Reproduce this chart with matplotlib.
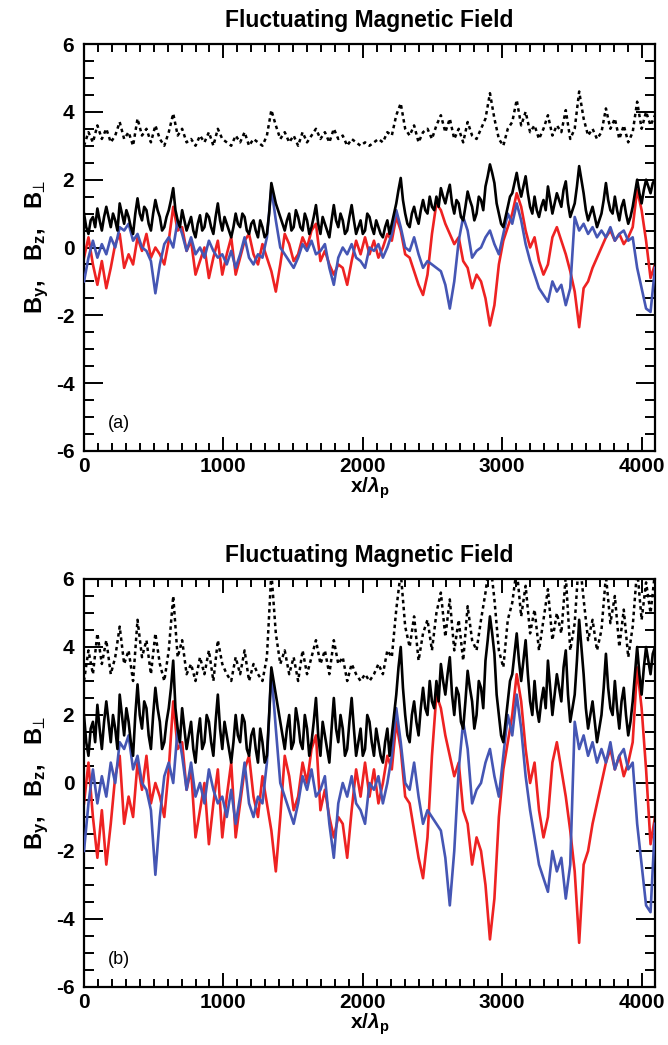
import numpy as np
import matplotlib
matplotlib.use("Agg")
import matplotlib.pyplot as plt
from matplotlib.ticker import MultipleLocator

plt.rcParams['font.family'] = ['Liberation Sans', 'DejaVu Sans']
plt.rcParams['axes.unicode_minus'] = False
plt.rcParams['mathtext.fontset'] = 'custom'
plt.rcParams['mathtext.rm'] = 'Liberation Sans:bold'
plt.rcParams['mathtext.bf'] = 'Liberation Sans:bold'
plt.rcParams['mathtext.it'] = 'Liberation Sans:italic:bold'
plt.rcParams['mathtext.fallback'] = 'stixsans'

# ---------------- data ----------------
x_pos = np.arange(0, 4097, 32)    # grid of the B_y, B_z and dotted curves
x_fine = np.arange(0, 4097, 16)   # grid of the B_perp curves

a_perp = [1.0,0.6,0.4,0.8,0.9,0.6,1.15,0.8,0.5,0.9,1.2,0.9,0.6,1.0,0.8,0.5,1.3,1.0,0.7,1.1,
 0.9,0.6,0.4,1.0,1.45,1.0,0.8,1.2,1.1,0.7,0.5,1.0,1.4,1.1,0.9,0.5,0.6,0.9,1.1,1.4,
 1.75,1.1,0.8,0.6,1.1,0.8,0.5,0.7,0.9,0.5,0.3,0.7,0.95,0.5,0.6,1.0,0.9,0.6,0.4,0.9,
 1.3,0.8,0.5,0.9,0.7,0.5,0.3,0.6,1.0,0.7,0.6,1.0,0.9,0.5,0.4,0.7,0.8,0.5,0.3,0.8,
 0.6,0.3,0.4,1.0,1.9,1.6,1.3,1.1,0.9,0.7,0.5,0.8,1.0,0.5,0.6,1.1,0.9,0.6,0.5,1.0,
 0.8,0.4,0.6,0.9,1.25,0.7,0.4,0.9,0.7,0.5,0.3,0.8,1.25,0.8,0.6,1.0,0.8,0.4,0.5,0.9,
 1.25,0.8,0.4,0.6,0.8,0.4,0.5,1.0,0.9,0.6,0.4,0.8,0.6,0.4,0.3,0.6,0.8,0.4,0.7,1.0,
 1.3,1.7,2.05,1.4,1.0,0.7,0.6,1.0,1.2,0.9,0.7,1.1,1.4,1.1,1.0,1.5,1.2,1.1,1.5,1.2,
 1.75,1.5,1.3,1.6,1.85,1.3,1.0,1.4,1.3,0.9,0.8,1.2,1.65,1.4,1.2,0.8,1.0,1.5,1.4,1.1,
 1.8,2.1,2.45,2.2,1.9,1.3,1.0,0.7,0.6,0.9,1.2,1.5,1.6,1.9,2.2,1.8,1.5,1.8,2.1,1.6,
 1.2,1.0,1.5,1.1,0.9,1.2,1.4,1.1,1.8,1.4,1.0,1.3,1.6,1.4,1.2,1.7,1.95,1.3,0.9,1.1,
 1.3,1.8,2.4,2.0,1.6,1.1,0.8,1.0,1.2,0.9,0.6,0.8,1.0,1.4,1.9,1.4,1.1,1.0,1.5,1.1,
 0.8,1.2,1.4,1.0,0.7,0.9,1.2,1.6,2.0,1.6,1.3,1.7,2.0,1.8,1.6,1.9,2.0]

a_by = [-0.3,0.3,-0.5,-1.1,-0.4,-1.2,-0.6,0.1,0.4,-0.6,
 -0.2,-0.5,0.3,-0.1,0.4,-0.3,0.0,-0.2,-0.5,0.2,
 1.2,0.5,0.6,-0.1,0.2,-0.8,-0.4,0.0,-0.9,-0.3,
 0.2,-0.8,-0.2,0.3,-0.8,-0.3,0.2,0.4,-0.2,-0.5,
 0.1,-0.3,-0.7,-1.3,-0.5,0.4,0.1,-0.4,-0.2,0.3,
 0.0,0.5,0.7,-0.4,-0.1,-0.5,-0.8,-0.5,-0.6,-1.1,
 -0.4,0.2,-0.2,0.3,-0.2,0.2,-0.3,0.0,0.4,0.2,
 0.9,0.5,-0.2,-0.3,-0.7,-1.1,-1.4,-0.8,0.4,1.3,
 1.1,0.7,0.4,0.1,0.3,-0.4,-0.6,-1.2,-0.8,-1.0,
 -1.5,-2.3,-1.7,-0.5,0.2,0.6,1.0,1.6,1.2,0.5,
 0.0,0.3,-0.4,-0.8,-0.5,0.3,0.6,0.2,-0.2,-0.7,
 -1.3,-2.35,-1.2,-1.0,-0.6,-0.3,0.0,0.3,0.5,0.2,
 0.4,0.1,0.3,0.6,1.7,1.1,0.2,-0.9,-0.5]

a_bz = [-1.0,-0.3,0.2,-0.3,0.1,-0.2,0.3,0.0,0.6,0.5,
 0.7,0.2,0.4,0.0,-0.1,-0.4,-1.35,-0.5,0.1,0.3,
 0.0,0.8,0.4,-0.1,0.3,-0.2,0.0,-0.3,0.2,-0.1,
 -0.3,-0.2,-0.5,-0.1,-0.6,-0.2,0.3,-0.3,-0.5,-0.2,
 -0.3,0.3,1.75,0.8,0.0,-0.2,-0.4,-0.6,-0.3,0.1,
 -0.1,0.2,-0.2,-0.1,0.1,-0.6,-1.1,-0.3,0.0,-0.2,
 0.1,-0.3,-0.4,-0.6,0.0,-0.1,0.1,-0.3,0.0,0.4,
 1.1,0.6,0.0,-0.1,0.3,-0.2,-0.6,-0.4,-0.5,-0.6,
 -0.7,-1.1,-1.8,-1.0,0.2,0.9,0.5,-0.3,-0.1,0.0,
 0.3,0.5,0.1,-0.2,0.4,1.0,0.7,1.3,0.8,0.1,
 -0.4,-0.8,-1.2,-1.4,-1.6,-1.0,-1.3,-1.1,-1.7,-1.2,
 0.9,0.5,0.7,0.4,0.6,0.3,0.5,0.3,0.6,0.2,
 0.4,0.5,0.2,0.3,-0.6,-1.2,-1.8,-1.9,-0.6]

a_dot = [3.0,3.4,3.1,3.6,3.2,3.5,3.1,3.3,3.7,3.2,
 3.4,3.0,3.8,3.3,3.5,3.1,3.6,3.2,3.0,3.4,
 3.95,3.3,3.5,3.1,3.2,3.0,3.3,3.1,3.4,3.0,
 3.5,3.2,3.1,3.0,3.3,3.1,3.4,3.0,3.2,3.1,
 3.0,3.3,4.05,3.6,3.2,3.4,3.1,3.3,3.0,3.4,
 3.1,3.3,3.5,3.2,3.4,3.1,3.5,3.2,3.3,3.0,
 3.2,3.1,3.0,3.1,3.0,3.1,3.2,3.1,3.4,3.3,
 3.9,4.25,3.5,3.3,3.6,3.1,3.4,3.5,3.2,3.6,
 3.9,3.4,3.8,3.2,3.5,3.1,3.7,3.3,3.2,3.5,
 3.8,4.55,3.8,3.2,3.0,3.5,3.7,4.35,3.6,4.0,
 3.4,3.6,3.2,3.5,3.9,3.3,3.6,3.4,4.05,3.2,
 3.5,4.6,3.8,3.3,3.5,3.2,3.4,4.1,3.5,3.8,
 3.2,3.6,3.1,3.4,4.3,3.5,4.0,3.6,3.9]

b_perp = [2.0,1.2,0.8,1.6,1.8,1.2,2.3,1.6,1.0,1.8,2.4,1.8,1.2,2.0,1.6,1.0,2.6,2.0,1.4,2.2,
 1.8,1.2,0.8,2.0,2.9,2.0,1.6,2.4,2.2,1.4,1.0,2.0,2.8,2.2,1.8,1.0,1.2,1.8,2.2,2.8,
 3.6,2.2,1.6,1.2,2.2,1.6,1.0,1.4,1.8,1.0,0.6,1.4,1.9,1.0,1.2,2.0,1.8,1.2,0.8,1.8,
 2.6,1.6,1.0,1.8,1.4,1.0,0.6,1.2,2.0,1.4,1.2,2.0,1.8,1.0,0.8,1.4,1.6,1.0,0.6,1.6,
 1.2,0.6,0.8,2.0,3.4,3.0,2.6,2.2,1.8,1.4,1.0,1.6,2.0,1.0,1.2,2.2,1.8,1.2,1.0,2.0,
 1.6,0.8,1.2,1.8,2.5,1.4,0.8,1.8,1.4,1.0,0.6,1.6,2.5,1.6,1.2,2.0,1.6,0.8,1.0,1.8,
 2.5,1.6,0.8,1.2,1.6,0.8,1.0,2.0,1.8,1.2,0.8,1.6,1.2,0.8,0.6,1.2,1.6,0.8,1.4,2.0,
 2.6,3.4,4.0,2.8,2.0,1.4,1.2,2.0,2.4,1.8,1.4,2.2,2.8,2.2,2.0,3.0,2.4,2.2,3.0,2.4,
 3.5,3.0,2.6,3.2,3.7,2.6,2.0,2.8,2.6,1.8,1.6,2.4,3.3,2.8,2.4,1.6,2.0,3.0,2.8,2.2,
 3.6,4.2,4.9,4.4,3.8,2.6,2.0,1.4,1.2,1.8,2.4,3.0,3.2,3.8,4.4,3.6,3.0,3.6,4.2,3.2,
 2.4,2.0,3.0,2.2,1.8,2.4,2.8,2.2,3.6,2.8,2.0,2.6,3.2,2.8,2.4,3.4,3.9,2.6,1.8,2.2,
 2.6,3.6,4.8,4.0,3.2,2.2,1.6,2.0,2.4,1.8,1.2,1.6,2.0,2.8,3.8,2.8,2.2,2.0,3.0,2.2,
 1.6,2.4,2.8,2.0,1.4,1.8,2.4,3.2,4.0,3.2,2.6,3.4,4.0,3.6,3.2,3.8,4.0]

b_by = [-0.6,0.6,-1.0,-2.2,-0.8,-2.4,-1.2,0.2,0.8,-1.2,
 -0.4,-1.0,0.6,-0.2,0.8,-0.6,0.0,-0.4,-1.0,0.4,
 2.4,1.0,1.2,-0.2,0.4,-1.6,-0.8,0.0,-1.8,-0.6,
 0.4,-1.6,-0.4,0.6,-1.6,-0.6,0.4,0.8,-0.4,-1.0,
 0.2,-0.6,-1.4,-2.6,-1.0,0.8,0.2,-0.8,-0.4,0.6,
 0.0,1.0,1.4,-0.8,-0.2,-1.0,-1.6,-1.0,-1.2,-2.2,
 -0.8,0.4,-0.4,0.6,-0.4,0.4,-0.6,0.0,0.8,0.4,
 1.8,1.0,-0.4,-0.6,-1.4,-2.2,-2.8,-1.6,0.8,2.6,
 2.2,1.4,0.8,0.2,0.6,-0.8,-1.2,-2.4,-1.6,-2.0,
 -3.0,-4.6,-3.4,-1.0,0.4,1.2,2.0,3.2,2.4,1.0,
 0.0,0.6,-0.8,-1.6,-1.0,0.6,1.2,0.4,-0.4,-1.4,
 -2.6,-4.7,-2.4,-2.0,-1.2,-0.6,0.0,0.6,1.0,0.4,
 0.8,0.2,0.6,1.2,3.4,2.2,0.4,-1.8,-1.0]

b_bz = [-2.0,-0.6,0.4,-0.6,0.2,-0.4,0.6,0.0,1.2,1.0,
 1.4,0.4,0.8,0.0,-0.2,-0.8,-2.7,-1.0,0.2,0.6,
 0.0,1.6,0.8,-0.2,0.6,-0.4,0.0,-0.6,0.4,-0.2,
 -0.6,-0.4,-1.0,-0.2,-1.2,-0.4,0.6,-0.6,-1.0,-0.4,
 -0.6,0.6,3.3,1.6,0.0,-0.4,-0.8,-1.2,-0.6,0.2,
 -0.2,0.4,-0.4,-0.2,0.2,-1.2,-2.2,-0.6,0.0,-0.4,
 0.2,-0.6,-0.8,-1.2,0.0,-0.2,0.2,-0.6,0.0,0.8,
 2.2,1.2,0.0,-0.2,0.6,-0.4,-1.2,-0.8,-1.0,-1.2,
 -1.4,-2.2,-3.6,-2.0,0.4,1.8,1.0,-0.6,-0.2,0.0,
 0.6,1.0,0.2,-0.4,0.8,2.0,1.4,2.6,1.6,0.2,
 -0.8,-1.6,-2.4,-2.8,-3.2,-2.0,-2.6,-2.2,-3.4,-2.4,
 1.8,1.0,1.4,0.8,1.2,0.6,1.0,0.6,1.2,0.4,
 0.8,1.0,0.4,0.6,-1.2,-2.4,-3.6,-3.8,-1.2]

b_dot = [3.0,3.9,3.2,4.4,3.5,4.2,3.2,3.7,4.6,3.5,
 3.9,3.0,4.8,3.7,4.2,3.2,4.4,3.5,3.0,3.9,
 5.5,3.7,4.2,3.2,3.5,3.0,3.7,3.2,3.9,3.0,
 4.2,3.5,3.2,3.0,3.7,3.2,3.9,3.0,3.5,3.2,
 3.0,3.7,6.2,4.4,3.5,3.9,3.2,3.7,3.0,3.9,
 3.2,3.7,4.2,3.5,3.9,3.2,4.2,3.5,3.7,3.0,
 3.5,3.2,3.0,3.2,3.0,3.2,3.5,3.2,3.9,3.7,
 5.1,6.2,4.6,4.0,4.9,3.6,4.4,4.8,3.9,5.0,
 5.6,4.3,5.4,3.9,4.8,3.6,5.2,4.2,3.9,4.8,
 5.6,6.6,5.4,3.9,3.4,4.8,5.3,6.3,4.9,5.8,
 4.4,5.1,3.9,4.8,5.7,4.2,5.0,4.4,6.1,3.9,
 4.7,6.7,5.4,4.2,4.8,3.9,4.5,6.1,4.7,5.5,
 4.0,5.1,3.7,4.6,6.3,4.8,5.9,5.0,6.2]

panel_labels = ['(a)', '(b)']
title_text = 'Fluctuating Magnetic Field'
x_ticks = [0, 1000, 2000, 3000, 4000]
y_ticks = [-6, -4, -2, 0, 2, 4, 6]

RED = '#ee2222'
BLUE = '#4556b4'

W, H = 668, 1045
fig = plt.figure(figsize=(W / 100, H / 100), dpi=100)

def px_axes(left, top, right, bottom):
    return fig.add_axes([left / W, 1 - bottom / H, (right - left) / W, (bottom - top) / H])

ax_a = px_axes(84, 44, 655, 451)
ax_b = px_axes(84, 579, 655, 987)

panels = [
    (ax_a, a_by, a_bz, a_perp, a_dot, panel_labels[0]),
    (ax_b, b_by, b_bz, b_perp, b_dot, panel_labels[1]),
]

for ax, by, bz, bp, bd, lab in panels:
    ax.plot(x_pos, by, color=RED, lw=1.9, zorder=2)
    ax.plot(x_pos, bz, color=BLUE, lw=1.9, zorder=3)
    ax.plot(x_fine, bp, color='black', lw=1.9, zorder=4)
    ax.plot(x_pos, bd, color='black', lw=1.8, ls=(0, (1.4, 1.4)), zorder=4)
    ax.set_xlim(0, 4096)
    ax.set_ylim(-6, 6)
    ax.set_xticks(x_ticks)
    ax.set_yticks(y_ticks)
    ax.xaxis.set_minor_locator(MultipleLocator(100))
    ax.yaxis.set_minor_locator(MultipleLocator(0.5))
    ax.tick_params(axis='both', which='both', direction='in', top=True, right=True,
                   labelsize=15, width=1.4)
    ax.tick_params(axis='x', which='major', length=10, pad=4)
    ax.tick_params(axis='x', which='minor', length=6)
    ax.tick_params(axis='y', which='major', length=14, pad=7)
    ax.tick_params(axis='y', which='minor', length=7)
    for lbl in ax.get_xticklabels() + ax.get_yticklabels():
        lbl.set_fontweight('bold')
    for sp in ax.spines.values():
        sp.set_linewidth(1.6)
    ax.set_title(title_text, fontsize=16.5, fontweight='bold', pad=12)
    ax.set_xlabel(r'x/$\lambda_\mathbf{p}$', fontsize=15, fontweight='bold', labelpad=0)
    ax.set_ylabel(r'B$_\mathbf{y}$,   B$_\mathbf{z}$,   B$_{\!\!\bot}$', fontsize=17,
                  fontweight='bold', labelpad=3)
    ax.text(0.042, 0.068, lab, transform=ax.transAxes, fontsize=13,
            ha='left', va='center')

fig.savefig('out.png', dpi=100)
